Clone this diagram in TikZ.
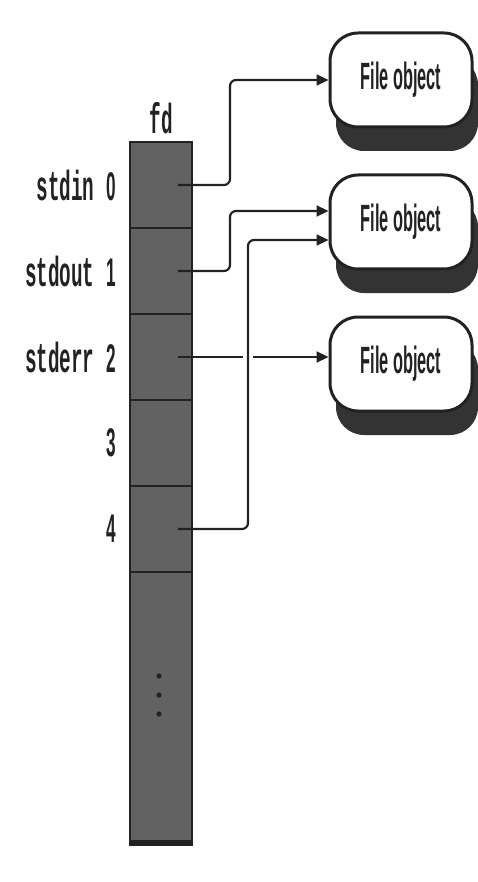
\documentclass[tikz,border=0pt]{standalone}
\usepackage{fontspec}
\setmonofont[FakeStretch=0.46]{Liberation Mono}
\newfontfamily\narrowsf[FakeStretch=0.43]{Liberation Sans}
\usetikzlibrary{arrows.meta, positioning, shadows}
\definecolor{cink}{HTML}{222222}
\definecolor{ccell}{HTML}{626262}
\definecolor{cshadow}{HTML}{333333}
\newcommand\fdnum[1]{{\narrowsf\bfseries\fontsize{40}{44}\selectfont #1}}
\tikzset{
  every picture/.style={line width=2pt},
  cell/.style={draw=cink, fill=ccell, line width=2.5pt, minimum width=62pt, minimum height=86pt, inner sep=0pt},
  fobj/.style={draw=cink, fill=white, line width=3pt, rounded corners=28pt, minimum width=142pt, minimum height=94pt,
    font=\narrowsf\bfseries\fontsize{38}{42}\selectfont, text=cink,
    drop shadow={shadow xshift=6pt, shadow yshift=-24pt, fill=cshadow, opacity=1}},
  arrow/.style={-{Triangle[length=12pt, width=11pt]}, draw=cink, line width=2.2pt, rounded corners=6pt},
  fdlabel/.style={font=\ttfamily\bfseries\fontsize{42}{46}\selectfont, text=cink, inner sep=0pt},
  hop/.style={draw=white, line width=10pt},
}

\begin{document}
\begin{tikzpicture}[x=1pt, y=-1pt]
  \useasboundingbox (0,0) rectangle (478,882);
  % fd table
  \foreach \i in {0,...,4}
    \node[cell] (c\i) at (161,185+86*\i) {};
  \node[cell, minimum height=270pt] (cx) at (161,707) {};
  \draw[cink, line width=6pt] (cx.south west) -- (cx.south east);
  \foreach \k/\dy in {0/31, 1/12, 2/-7}
    \fill[cink] ([xshift=-2pt, yshift=\dy pt]cx.center) circle (2.6pt);
  \node[fdlabel, above=6pt of c0] (fd) {fd};
  \node[fdlabel, left=12pt of c0] (l0) {stdin \fdnum{0}};
  \node[fdlabel, left=12pt of c1] (l1) {stdout \fdnum{1}};
  \node[fdlabel, left=12pt of c2] (l2) {stderr \fdnum{2}};
  \node[fdlabel, left=12pt of c3] (l3) {\fdnum{3}};
  \node[fdlabel, left=12pt of c4] (l4) {\fdnum{4}};
  % file objects
  \node[fobj] (f1) at (401,80) {File object};
  \node[fobj, below=45pt of f1] (f2) {File object};
  \node[fobj, below=45pt of f2] (f3) {File object};
  % pointers
  \draw[arrow] ([xshift=17pt]c0.center) -- ++(52pt,0) |- (f1.west);
  \draw[arrow] ([xshift=17pt]c1.center) -- ++(52pt,0) |- ([yshift=11pt]f2.west);
  \draw[arrow] ([xshift=17pt]c2.center) -- (c2.center -| f3.west);
  \coordinate (k4) at ([xshift=87pt]c4.center);
  \draw[hop] ([yshift=4pt]k4 |- c2.center) -- ([yshift=-4pt]k4 |- c2.center);
  \draw[arrow] ([xshift=17pt]c4.center) -- (k4) |- ([yshift=-18pt]f2.west);
\end{tikzpicture}
\end{document}
